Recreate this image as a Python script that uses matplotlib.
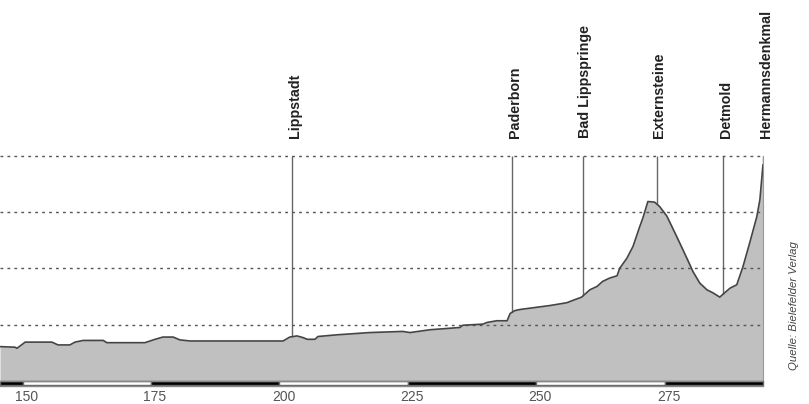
import matplotlib
matplotlib.use('Agg')
import matplotlib.pyplot as plt
import matplotlib.transforms as mtransforms

plt.rcParams['font.family'] = ['Liberation Sans', 'DejaVu Sans']

# Hoehenprofil: Kilometer / Hoehe in m
km = [145.6, 148.5, 148.9, 150.5, 155.7, 156.9, 159.2, 160.2, 161.8, 165.7,
      166.4, 173.8, 175.8, 177.3, 179.3, 180.6, 182.6, 200.7, 202.0, 203.4,
      204.6, 205.4, 206.9, 207.5, 211.2, 217.6, 224.0, 225.4, 229.3, 235.1,
      235.7, 239.6, 240.4, 242.3, 244.3, 244.9, 245.8, 246.8, 250.1, 252.6,
      255.9, 258.8, 260.4, 261.8, 262.9, 264.3, 265.7, 266.2, 267.6, 268.8,
      270.1, 270.7, 271.7, 273.0, 274.0, 275.4, 277.3, 279.3, 280.5, 281.8,
      283.2, 284.3, 285.7, 286.3, 287.7, 289.0, 290.2, 291.5, 292.9, 293.5,
      294.1]
elev = [61, 60, 58, 69, 69, 64, 64, 69, 72, 72,
        68, 68, 74, 78, 78, 73, 71, 71, 78, 80,
        77, 74, 74, 79, 82, 86, 88, 86, 91, 95,
        99, 101, 104, 107, 107, 120, 125, 127, 131, 134,
        139, 149, 162, 168, 177, 183, 187, 200, 218, 239,
        274, 289, 319, 318, 310, 293, 257, 218, 194, 174,
        162, 157, 149, 154, 165, 171, 203, 245, 292, 322,
        384]

places = ['Lippstadt', 'Paderborn', 'Bad Lippspringe', 'Externsteine',
          'Detmold', 'Hermannsdenkmal']
place_km = [202.4, 245.2, 259.0, 273.4, 286.3, 294.1]

ticks = [150, 175, 200, 225, 250, 275]
grid_levels = [100, 200, 300, 400]
x_start, x_end = 145.6, 294.1

fig = plt.figure(figsize=(8.09, 4.04), dpi=100)
ax = fig.add_axes([0, 0.0446, 0.9431, 0.5693])

ax.vlines(place_km, 0, 400, color='#666666', lw=1, zorder=1)
ax.fill_between(km, 0, elev, color='#c0c0c0', lw=0, zorder=2)
ax.plot(km, elev, color='#444444', lw=1.2, zorder=3)

# Massstabsleiste unten
bounds = [x_start] + ticks + [x_end]
segs = [(bounds[i], bounds[i + 1] - bounds[i]) for i in range(len(bounds) - 1)]
cols = ['black' if i % 2 == 0 else 'white' for i in range(len(segs))]
bar = ax.broken_barh(segs, (-7.5, 6.5), facecolors=cols, edgecolor='#666666',
                     lw=1, zorder=5)
bar.set_clip_on(False)
ax.axhline(-8.5, color='#888888', lw=1, zorder=5, clip_on=False)
ax.axhline(0, color='#888888', lw=1, zorder=5)

ax.set_xlim(x_start, x_end)
ax.set_ylim(-9, 400)
ax.set_xticks(ticks)
ax.tick_params(axis='x', length=0, pad=3, labelsize=10, labelcolor='#555555')
off = mtransforms.ScaledTranslation(0.04, 0, fig.dpi_scale_trans)
for lbl in ax.get_xticklabels():
    lbl.set_transform(lbl.get_transform() + off)

ax.set_yticks(grid_levels)
ax.tick_params(axis='y', length=0, labelleft=False)
ax.yaxis.grid(True, color='#555555', lw=1, linestyle=(0, (2, 3)), zorder=4)
ax.set_axisbelow(False)
for gl in ax.get_ygridlines():
    gl.set_clip_on(False)

for s in ['top', 'left', 'bottom']:
    ax.spines[s].set_visible(False)
ax.spines['right'].set_color('#999999')
ax.spines['right'].set_bounds(0, 400)

for name, k in zip(places, place_km):
    ax.annotate(name, xy=(k, 1), xycoords=('data', 'axes fraction'),
                xytext=(2, 13), textcoords='offset points', rotation=90,
                ha='center', va='bottom', fontweight='bold', fontsize=10.3,
                color='#222222', annotation_clip=False)

fig.text(0.981, 0.2426, 'Quelle: Bielefelder Verlag', rotation=90,
         ha='center', va='center', style='italic', fontsize=8.2,
         color='#444444')

fig.savefig('out.png', dpi=100)
